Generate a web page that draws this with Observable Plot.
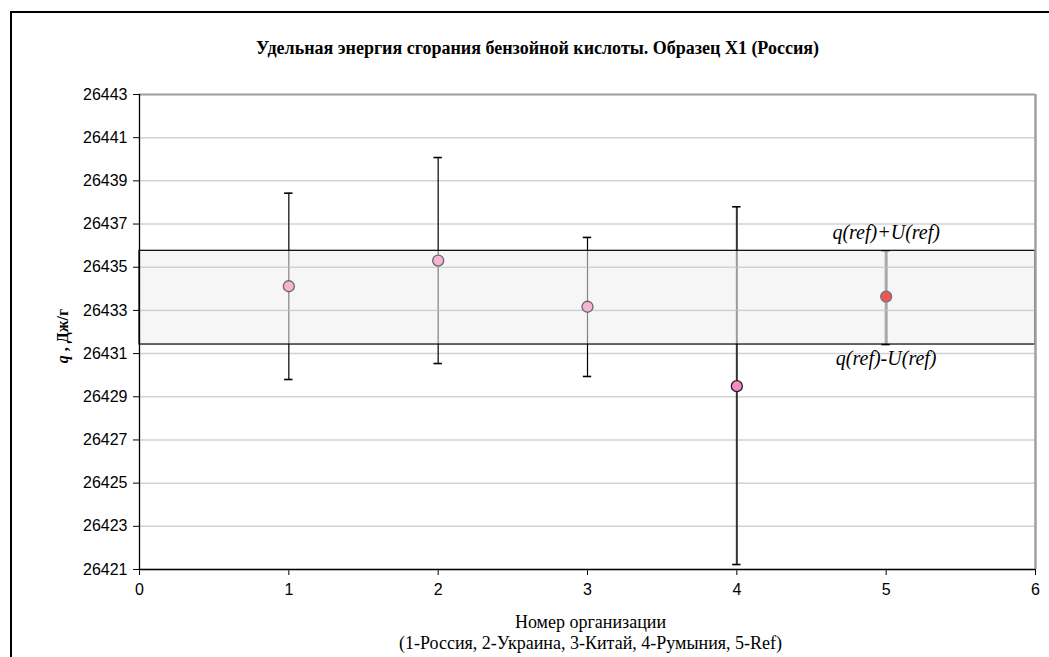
<!DOCTYPE html>
<html>
<head>
<meta charset="utf-8">
<script src="https://cdn.jsdelivr.net/npm/d3@7"></script>
<script src="https://cdn.jsdelivr.net/npm/@observablehq/plot@0.6"></script>
<style>
  html, body { margin: 0; padding: 0; background: #fff; overflow: hidden; }
  #wrap { position: relative; width: 1049px; height: 657px; }
  #frame { position: absolute; left: 10px; top: 11px; width: 1100px; height: 700px; border: 2px solid #000; box-sizing: border-box; pointer-events: none; }
  #ylab { position: absolute; left: 63px; top: 336px; transform: translate(-50%, -50%) rotate(-90deg); font-family: "Liberation Serif", "Times New Roman", serif; font-weight: bold; font-size: 16px; white-space: nowrap; }
  #chart { position: absolute; left: 0; top: 0; }
</style>
</head>
<body>
<div id="wrap">
  <div id="chart"></div>
  <div id="frame"></div>
  <div id="ylab"><i>q</i> , Дж/г</div>
</div>
<script>
// ---- data ----
const orgs   = [1, 2, 3, 4, 5];
const qVal   = [26434.12, 26435.31, 26433.17, 26429.49, 26433.64];
const qLow   = [26429.80, 26430.54, 26429.94, 26421.23, 26431.42];
const qHigh  = [26438.43, 26440.08, 26436.38, 26437.80, 26435.76];
const refLow  = 26431.42;
const refHigh = 26435.76;
const yTicks = [26421, 26423, 26425, 26427, 26429, 26431, 26433, 26435, 26437, 26439, 26441, 26443];
const xTicks = [0, 1, 2, 3, 4, 5, 6];
const titleText = "Удельная энергия сгорания бензойной кислоты. Образец X1 (Россия)";
const xLabel1 = "Номер организации";
const xLabel2 = "(1-Россия, 2-Украина, 3-Китай, 4-Румыния, 5-Ref)";
const upperLabel = "q(ref)+U(ref)";
const lowerLabel = "q(ref)-U(ref)";

// per-point styles
const barStroke = ["#000", "#000", "#000", "#333", "#555"];
const barWidth  = [1.2, 1.2, 1.2, 2, 3];
const dotFill   = ["#f4b4d2", "#f4b4d2", "#f4b4d2", "#f48ac6", "#f05656"];
const dotStroke = ["#666", "#666", "#666", "#222", "#777"];

const rows = orgs.map((o, i) => ({
  org: o, q: qVal[i], lo: qLow[i], hi: qHigh[i],
  bs: barStroke[i], bw: barWidth[i], df: dotFill[i], ds: dotStroke[i]
}));
const capHalf = 0.028;

const serif = "'Liberation Serif', 'Times New Roman', serif";

const plot = Plot.plot({
  width: 1049,
  height: 657,
  marginLeft: 139,
  marginRight: 14,
  marginTop: 94,
  marginBottom: 88,
  style: { fontFamily: "'Liberation Sans', Arial, sans-serif", fontSize: "16px", color: "#000", background: "transparent", overflow: "visible" },
  x: { domain: [0, 6], ticks: xTicks, tickFormat: "d", tickSize: 6, tickPadding: 8, label: null },
  y: { domain: [26421, 26443], ticks: yTicks, tickFormat: "d", tickSize: 6, tickPadding: 6, label: null },
  marks: [
    Plot.ruleY(yTicks, { stroke: "#d2d2d2", strokeWidth: 1.5 }),
    // error bars
    Plot.ruleX(rows, { x: "org", y1: "lo", y2: "hi", stroke: d => d.bs, strokeWidth: d => d.bw }),
    Plot.ruleY(rows, { y: "hi", x1: d => d.org - capHalf, x2: d => d.org + capHalf, stroke: "#000", strokeWidth: 1.6 }),
    Plot.ruleY(rows, { y: "lo", x1: d => d.org - capHalf, x2: d => d.org + capHalf, stroke: "#000", strokeWidth: 1.6 }),
    // reference band
    Plot.rect([{ a: refLow, b: refHigh }], { x1: 0, x2: 6, y1: "a", y2: "b", fill: "#eeeeee", fillOpacity: 0.55, stroke: "#000", strokeWidth: 1.2 }),
    Plot.ruleY(yTicks.filter(t => t > refLow && t < refHigh), { stroke: "#c6c6c6", strokeWidth: 1.2, strokeOpacity: 0.7 }),
    // points
    Plot.dot(rows, { x: "org", y: "q", r: 5.5, fill: d => d.df, stroke: d => d.ds, strokeWidth: 1.3 }),
    // plot border top/right
    Plot.ruleY([26443], { stroke: "#a0a0a0", strokeWidth: 2 }),
    Plot.ruleX([6], { stroke: "#a0a0a0", strokeWidth: 2.5 }),
    // axes lines
    Plot.ruleX([0], { stroke: "#000", strokeWidth: 1.3 }),
    Plot.ruleY([26421], { stroke: "#000", strokeWidth: 1.5 }),
    // annotations
    Plot.text([upperLabel], { x: 5, y: refHigh, text: d => d, dy: -18, fontFamily: serif, fontStyle: "italic", fontSize: 20, fill: "#000" }),
    Plot.text([lowerLabel], { x: 5, y: refLow, text: d => d, dy: 14, fontFamily: serif, fontStyle: "italic", fontSize: 20, fill: "#000" }),
    // title & x label
    Plot.text([titleText], { frameAnchor: "top", dx: -50, dy: -53, text: d => d, fontFamily: serif, fontWeight: "bold", fontSize: 18, fill: "#000" }),
    Plot.text([xLabel1], { frameAnchor: "bottom", dx: 3, dy: 58, text: d => d, fontFamily: serif, fontSize: 18, fill: "#000" }),
    Plot.text([xLabel2], { frameAnchor: "bottom", dx: 3, dy: 79, text: d => d, fontFamily: serif, fontSize: 18, fill: "#000" })
  ]
});
document.getElementById("chart").appendChild(plot);
</script>
</body>
</html>
